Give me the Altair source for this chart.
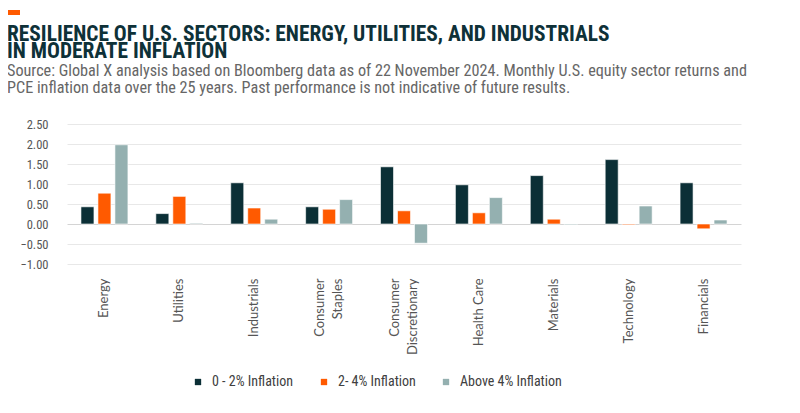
import altair as alt
import pandas as pd

sectors = ["Energy", "Utilities", "Industrials", "Consumer Staples",
           "Consumer Discretionary", "Health Care", "Materials",
           "Technology", "Financials"]
series = ["0 - 2% Inflation", "2- 4% Inflation", "Above 4% Inflation"]
low_infl = [0.43, 0.26, 1.03, 0.43, 1.43, 0.98, 1.21, 1.61, 1.03]
mid_infl = [0.77, 0.69, 0.40, 0.37, 0.33, 0.28, 0.12, -0.02, -0.12]
high_infl = [1.98, 0.02, 0.12, 0.61, -0.48, 0.66, -0.02, 0.45, 0.10]
y_ticks = [-1.0, -0.5, 0.0, 0.5, 1.0, 1.5, 2.0, 2.5]
colors = ["#0b2f36", "#ff5a00", "#94b0b0"]

rows = []
for vals, s in zip([low_infl, mid_infl, high_infl], series):
    for sec, v in zip(sectors, vals):
        rows.append({"sector": sec, "series": s, "value": v})
df = pd.DataFrame(rows)

COND = "Roboto Condensed, DejaVu Sans Condensed, sans-serif"

bars = alt.Chart(df).mark_bar(stroke="white", strokeWidth=0.6).encode(
    x=alt.X("sector:N", sort=sectors, title=None,
            scale=alt.Scale(paddingInner=0.373, paddingOuter=0.1865),
            axis=alt.Axis(labelAngle=-90, labelAlign="right", labelBaseline="middle",
                          labelFont="Lato", labelFontSize=13, labelColor="#555555",
                          labelPadding=14, ticks=False, tickSize=0, domain=False,
                          labelLineHeight=18, labelOverlap=False,
                          labelOffset={"condition": {"test": "indexof(datum.label, 'Consumer') == 0", "value": -9}, "value": 0},
                          labelExpr="indexof(datum.label, 'Consumer') == 0 ? split(datum.label, ' ') : datum.label")),
    xOffset=alt.XOffset("series:N", sort=series,
                        scale=alt.Scale(paddingInner=0.235, paddingOuter=0)),
    y=alt.Y("value:Q", title=None,
            scale=alt.Scale(domain=[-1, 2.5], nice=False, zero=False),
            axis=alt.Axis(values=y_ticks, format=".2f", labelFont=COND,
                          labelFontSize=12.5, labelColor="#555555", labelPadding=19,
                          ticks=False, tickSize=0, domain=False, labelOverlap=False,
                          grid=True, gridWidth=1,
                          gridColor={"condition": {"test": "datum.value === 0", "value": "#d4d4d4"}, "value": "#e8e8e8"})),
    color=alt.Color("series:N", sort=series,
                    scale=alt.Scale(domain=series, range=colors),
                    legend=alt.Legend(title=None, orient="none", direction="horizontal",
                                      legendX=124, legendY=251, symbolType="square",
                                      symbolSize=40, symbolStrokeWidth=0,
                                      labelFont=COND, labelFontSize=14,
                                      labelColor="#404040", labelOffset=7,
                                      columnPadding=23, padding=0)),
)

accent = alt.Chart(alt.Data(values=[{}])).mark_rect(color="#ff5a00").encode(
    x=alt.value(-60), x2=alt.value(-47), y=alt.value(-114), y2=alt.value(-109)
)

chart = alt.layer(bars, accent).properties(
    width=674, height=140,
    autosize=alt.AutoSizeParams(type="none"),
    padding={"left": 59, "top": 116, "right": 51, "bottom": 141},
    title=alt.TitleParams(
        text=["RESILIENCE OF U.S. SECTORS: ENERGY, UTILITIES, AND INDUSTRIALS",
              "IN MODERATE INFLATION"],
        subtitle=["Source: Global X analysis based on Bloomberg data as of 22 November 2024. Monthly U.S. equity sector returns and",
                  "PCE inflation data over the 25 years. Past performance is not indicative of future results."],
        anchor="start", frame="group", orient="top", dx=-60, dy=86, offset=0,
        font=COND, fontSize=21.4, fontWeight="bold", color="#0e3138", lineHeight=17,
        subtitleFont=COND, subtitleFontSize=16.2, subtitleColor="#666666",
        subtitleLineHeight=16.5, subtitlePadding=1,
    ),
).configure_view(stroke=None)

chart.save("out.html", embed_options={"renderer": "svg", "actions": False})
